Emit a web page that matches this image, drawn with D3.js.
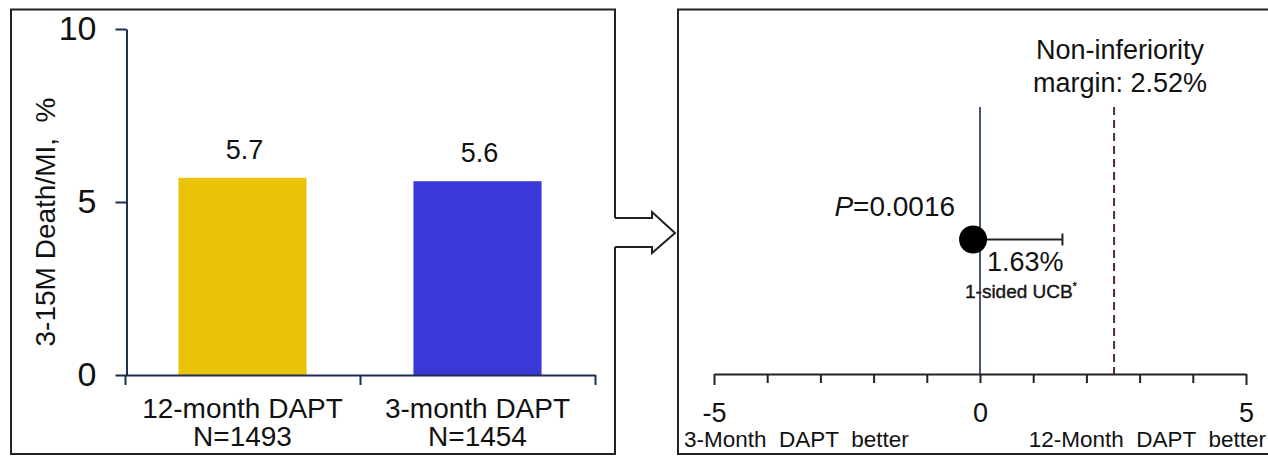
<!DOCTYPE html>
<html>
<head>
<meta charset="utf-8">
<script src="https://cdn.jsdelivr.net/npm/d3@7"></script>
<style>
  html, body { margin: 0; padding: 0; background: #fff; }
  svg { display: block; }
  text { font-family: "Liberation Sans", Arial, sans-serif; fill: #111; white-space: pre; }
</style>
</head>
<body>
<svg id="chart" width="1268" height="456"></svg>
<script>
// ---- data ----
const categories = ["12-month DAPT", "3-month DAPT"];
const sampleSizes = ["N=1493", "N=1454"];
const rates = [5.7, 5.6];
const barColors = ["#EBC40A", "#3A38D6"];
const yTicks = [0, 5, 10];
const yTitle = "3-15M Death/MI,  %";

const diffTicks = [-5, -4, -3, -2, -1, 0, 1, 2, 3, 4, 5];
const diffTickLabels = [-5, 0, 5];
const outcomeRow = ["Death/MI"];
const pointEstimate = [-0.13];
const upperBound = [1.55];
const upperBoundLabel = "1.63%";
const niMargin = 2.52;
const pValueText = "=0.0016";
const leftSideLabel = "3-Month  DAPT  better";
const rightSideLabel = "12-Month  DAPT  better";
const marginLines = ["Non-inferiority", "margin: 2.52%"];

const svg = d3.select("#chart");

// ---- frames & arrow ----
svg.append("path")
  .attr("d", "M615,218 V9.5 H11 V454 H615 V247")
  .attr("fill", "none").attr("stroke", "#222").attr("stroke-width", 2);
svg.append("path")
  .attr("d", "M615,218 H652 V212 L675,233 L652,253 V247 H615")
  .attr("fill", "none").attr("stroke", "#222").attr("stroke-width", 2).attr("stroke-linejoin", "miter");
svg.append("path")
  .attr("d", "M1272,9.5 H678 V454 H1272")
  .attr("fill", "none").attr("stroke", "#222").attr("stroke-width", 2);

// ---- left: bar chart ----
const y = d3.scaleLinear().domain([0, 10]).range([375, 29]);
const x = d3.scaleBand().domain(categories).range([125, 595]).paddingInner(0.455).paddingOuter(0.2275);

svg.selectAll("rect.bar").data(rates).join("rect")
  .attr("class", "bar")
  .attr("x", (d, i) => x(categories[i]))
  .attr("width", x.bandwidth())
  .attr("y", d => y(d))
  .attr("height", d => y(0) - y(d))
  .attr("fill", (d, i) => barColors[i]);

svg.selectAll("text.val").data(rates).join("text")
  .attr("class", "val")
  .attr("x", (d, i) => x(categories[i]) + x.bandwidth() / 2 + 2)
  .attr("y", d => y(d) - 19)
  .attr("text-anchor", "middle")
  .style("font-size", "27px")
  .text(d => d3.format(".1f")(d));

const yAxis = svg.append("g").attr("transform", "translate(126.5,0)")
  .call(d3.axisLeft(y).tickValues(yTicks).tickSize(11).tickSizeOuter(0).tickPadding(19).tickFormat(d => String(d)));
yAxis.select(".domain").attr("stroke", "#1d2f52").attr("stroke-width", 2);
yAxis.selectAll(".tick line").attr("stroke", "#1d2f52").attr("stroke-width", 2);
yAxis.selectAll(".tick text").style("font-size", "34px").attr("fill", "#111")
  .style("font-family", "'Liberation Sans', Arial, sans-serif");

// x axis with boundary ticks
const xEdges = d3.scaleLinear().domain([0, categories.length]).range([125, 595]);
const xAxis = svg.append("g").attr("transform", `translate(0,${y(0)})`)
  .call(d3.axisBottom(xEdges).tickValues(d3.range(categories.length + 1)).tickSize(10).tickSizeOuter(0).tickFormat(""));
xAxis.select(".domain").attr("stroke", "#1d2f52").attr("stroke-width", 2);
xAxis.selectAll(".tick line").attr("stroke", "#1d2f52").attr("stroke-width", 2);

svg.selectAll("text.cat").data(categories).join("text")
  .attr("class", "cat")
  .attr("x", d => x(d) + x.bandwidth() / 2)
  .attr("y", 418)
  .attr("text-anchor", "middle")
  .style("font-size", "28px")
  .text(d => d);
svg.selectAll("text.n").data(sampleSizes).join("text")
  .attr("class", "n")
  .attr("x", (d, i) => x(categories[i]) + x.bandwidth() / 2)
  .attr("y", 446)
  .attr("text-anchor", "middle")
  .style("font-size", "28px")
  .text(d => d);

svg.append("text")
  .attr("transform", "translate(55,222) rotate(-90)")
  .attr("text-anchor", "middle")
  .style("font-size", "28px")
  .text(yTitle);

// ---- right: forest plot ----
const xd = d3.scaleLinear().domain([-5, 5]).range([714, 1246]);
const row = d3.scaleBand().domain(outcomeRow).range([105, 374]);
const rowY = row(outcomeRow[0]) + row.bandwidth() / 2;

const dAxis = svg.append("g").attr("transform", "translate(0,374)")
  .call(d3.axisBottom(xd).tickValues(diffTicks).tickSize(9).tickSizeOuter(0).tickPadding(20)
    .tickFormat(d => diffTickLabels.includes(d) ? String(d) : ""));
dAxis.select(".domain").attr("stroke", "#222").attr("stroke-width", 2);
dAxis.selectAll(".tick line").attr("stroke", "#222").attr("stroke-width", 2)
  .attr("y2", d => (d === -5 || d === 5) ? 11 : 9);
dAxis.selectAll(".tick text").style("font-size", "27px").attr("fill", "#111")
  .style("font-family", "'Liberation Sans', Arial, sans-serif");

// zero line
svg.append("line")
  .attr("x1", xd(0)).attr("x2", xd(0)).attr("y1", 107).attr("y2", 374)
  .attr("stroke", "#1b2c55").attr("stroke-width", 1.6);
// margin line
svg.append("line")
  .attr("x1", xd(niMargin)).attr("x2", xd(niMargin)).attr("y1", 107).attr("y2", 374)
  .attr("stroke", "#5a2a2a").attr("stroke-width", 2).attr("stroke-dasharray", "8,5");

// whisker
svg.selectAll("line.whisk").data(pointEstimate).join("line")
  .attr("class", "whisk")
  .attr("x1", d => xd(d)).attr("x2", (d, i) => xd(upperBound[i]))
  .attr("y1", rowY).attr("y2", rowY)
  .attr("stroke", "#222").attr("stroke-width", 2);
svg.selectAll("line.cap").data(upperBound).join("line")
  .attr("class", "cap")
  .attr("x1", d => xd(d)).attr("x2", d => xd(d))
  .attr("y1", rowY - 6).attr("y2", rowY + 6)
  .attr("stroke", "#222").attr("stroke-width", 2);
svg.selectAll("circle.pt").data(pointEstimate).join("circle")
  .attr("class", "pt")
  .attr("cx", d => xd(d)).attr("cy", rowY).attr("r", 14)
  .attr("fill", "#000");

// annotations
const pText = svg.append("text")
  .attr("x", xd(pointEstimate[0]) - 18).attr("y", rowY - 24)
  .attr("text-anchor", "end")
  .style("font-size", "28px");
pText.append("tspan").style("font-style", "italic").text("P");
pText.append("tspan").text(pValueText);

svg.append("text")
  .attr("x", xd(0) + 7).attr("y", rowY + 31)
  .style("font-size", "27px")
  .text(upperBoundLabel);

const ucb = svg.append("text")
  .attr("x", xd(0) - 15).attr("y", rowY + 58)
  .style("font-size", "19px").attr("fill", "#222")
  .attr("stroke", "#222").attr("stroke-width", 0.4);
ucb.append("tspan").text("1-sided UCB");
ucb.append("tspan").attr("dy", -8).style("font-size", "10px").text("*");

svg.selectAll("text.margin").data(marginLines).join("text")
  .attr("class", "margin")
  .attr("x", xd(niMargin) + 6)
  .attr("y", (d, i) => 59 + i * 33)
  .attr("text-anchor", "middle")
  .style("font-size", "27px")
  .text(d => d);

svg.append("text")
  .attr("x", 684).attr("y", 447)
  .style("font-size", "22.5px")
  .text(leftSideLabel);
svg.append("text")
  .attr("x", 1266).attr("y", 447)
  .attr("text-anchor", "end")
  .style("font-size", "22.5px")
  .text(rightSideLabel);
</script>
</body>
</html>
